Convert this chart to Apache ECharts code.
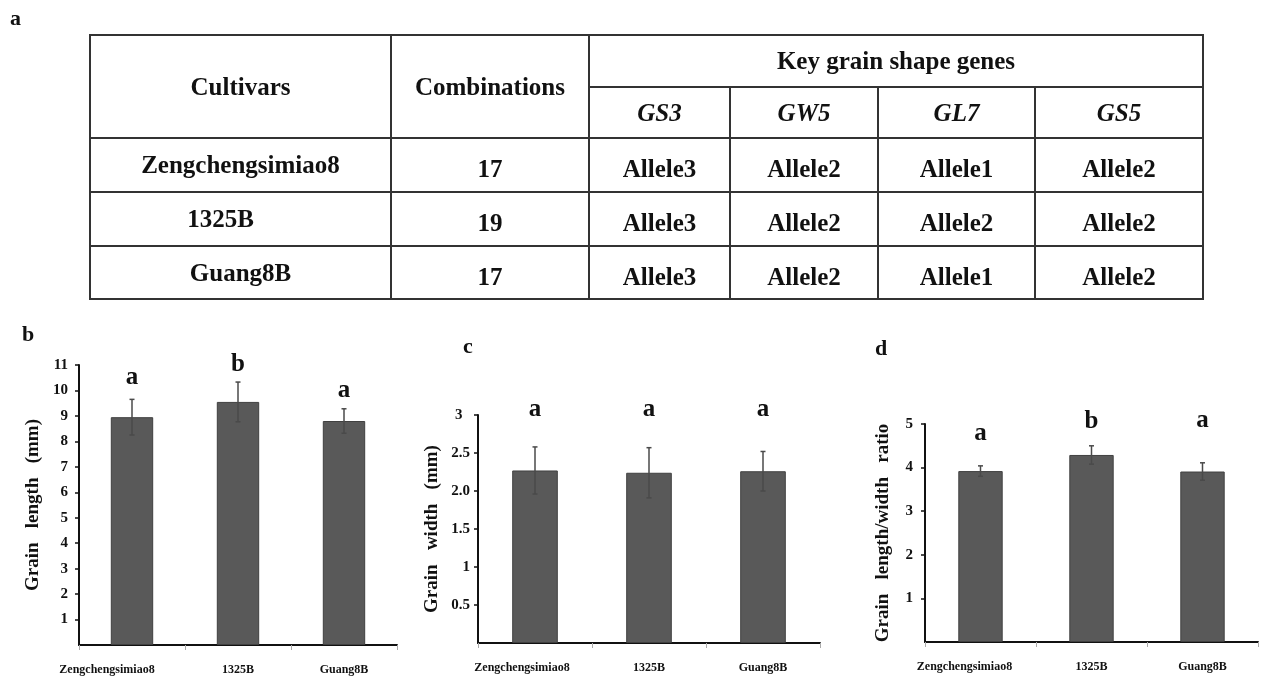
<!DOCTYPE html>
<html>
<head>
<meta charset="utf-8">
<script src="https://cdn.jsdelivr.net/npm/echarts@6/dist/echarts.min.js"></script>
<style>
  body { margin: 0; background: #fff; }
  #chart { position: absolute; left: 0; top: 0; width: 1263px; height: 680px; }
  #tbl {
    position: absolute; left: 89px; top: 34px; width: 1113px; height: 264px;
    border-collapse: collapse; table-layout: fixed; z-index: 2;
    font-family: 'Liberation Serif', 'Times New Roman', serif;
    font-weight: bold; font-size: 25px; color: #111;
  }
  #tbl td { border: 2px solid #333; text-align: center; vertical-align: middle; padding: 0; }
  #tbl td.gene { font-style: italic; }
  #tbl td.low { padding-top: 8px; }
</style>
</head>
<body>
<div id="chart"></div>
<table id="tbl"></table>
<script>
// panel a (table)
const tableGenes = ['GS3', 'GW5', 'GL7', 'GS5'];
const tableCultivars = ['Zengchengsimiao8', '1325B', 'Guang8B'];
const tableCombinations = [17, 19, 17];
const tableAlleles = [
  ['Allele3', 'Allele2', 'Allele1', 'Allele2'],
  ['Allele3', 'Allele2', 'Allele2', 'Allele2'],
  ['Allele3', 'Allele2', 'Allele1', 'Allele2']
];

// panels b, c, d
const categories = ['Zengchengsimiao8', '1325B', 'Guang8B'];
const lengthMean = [8.95, 9.55, 8.8];
const lengthErr = [0.7, 0.78, 0.48];
const lengthLetters = ['a', 'b', 'a'];
const lengthLetterPos = [10.5, 11.0, 10.0];

const widthMean = [2.27, 2.24, 2.26];
const widthErr = [0.31, 0.33, 0.26];
const widthLetters = ['a', 'a', 'a'];
const widthLetterPos = [3.07, 3.07, 3.07];
const widthTicks = [0.5, 1, 1.5, 2, 2.5, 3];
const widthTickLabels = ['0.5', '1', '1.5', '2.0', '2.5', '3  '];

const ratioMean = [3.92, 4.29, 3.91];
const ratioErr = [0.12, 0.21, 0.2];
const ratioLetters = ['a', 'b', 'a'];
const ratioLetterPos = [4.79, 5.05, 5.09];

// build the table
const tbl = document.getElementById('tbl');
const colW = [301, 198, 141, 148, 157, 168];
const rowH = [52, 51, 54, 54, 53];
let html = '<colgroup>' + colW.map(w => `<col style="width:${w}px">`).join('') + '</colgroup>';
html += `<tr style="height:${rowH[0]}px"><td rowspan="2">Cultivars</td><td rowspan="2">Combinations</td><td colspan="4">Key grain shape genes</td></tr>`;
html += `<tr style="height:${rowH[1]}px">` + tableGenes.map(g => `<td class="gene">${g}</td>`).join('') + '</tr>';
tableCultivars.forEach((c, i) => {
  const pad = c === '1325B' ? ' style="padding-right:40px"' : '';
  html += `<tr style="height:${rowH[i + 2]}px"><td${pad}>${c}</td><td class="low">${tableCombinations[i]}</td>` +
    tableAlleles[i].map(a => `<td class="low">${a}</td>`).join('') + '</tr>';
});
tbl.innerHTML = html;

const chart = echarts.init(document.getElementById('chart'));
const font = 'Liberation Serif';

function xAxisFor(grid, shift) {
  return {
    type: 'category',
    gridIndex: grid,
    // first label sits left of its bar in the original
    data: categories.map((c, i) => ({
      value: c,
      textStyle: { padding: [0, (i === 0 ? shift : 0), 0, 0] }
    })),
    axisLine: { lineStyle: { color: '#111', width: 2 } },
    axisTick: { show: true, length: 5, lineStyle: { color: '#aaa' } },
    axisLabel: { interval: 0, margin: 19, fontFamily: font, fontWeight: 'bold', fontSize: 12, color: '#111' }
  };
}

function yAxisFor(grid, max, interval, name, gap, margin, formatter) {
  return {
    type: 'value',
    gridIndex: grid,
    min: 0,
    max: max,
    interval: interval,
    name: name,
    nameLocation: 'middle',
    nameGap: gap,
    nameTextStyle: { fontFamily: font, fontWeight: 'bold', fontSize: 19, color: '#111' },
    axisLine: { show: true, lineStyle: { color: '#111', width: 2 } },
    axisTick: { show: true, length: 4, lineStyle: { color: '#111', width: 1.5 } },
    axisLabel: {
      margin: margin, showMinLabel: false,
      fontFamily: font, fontWeight: 'bold', fontSize: 15, color: '#111',
      formatter: formatter
    },
    splitLine: { show: false }
  };
}

function errorBars(grid, mean, err) {
  return {
    type: 'custom',
    xAxisIndex: grid,
    yAxisIndex: grid,
    z: 3,
    data: mean.map((m, i) => [i, m - err[i], m + err[i]]),
    renderItem: (params, api) => {
      const hi = api.coord([api.value(0), api.value(2)]);
      const lo = api.coord([api.value(0), api.value(1)]);
      const w = 2.5;
      const st = { stroke: '#4a4a4a', lineWidth: 1.5 };
      return {
        type: 'group',
        children: [
          { type: 'line', shape: { x1: hi[0], y1: hi[1], x2: lo[0], y2: lo[1] }, style: st },
          { type: 'line', shape: { x1: hi[0] - w, y1: hi[1], x2: hi[0] + w, y2: hi[1] }, style: st },
          { type: 'line', shape: { x1: lo[0] - w, y1: lo[1], x2: lo[0] + w, y2: lo[1] }, style: st }
        ]
      };
    }
  };
}

function bars(grid, mean) {
  return {
    type: 'bar',
    xAxisIndex: grid,
    yAxisIndex: grid,
    barWidth: '40%',
    data: mean,
    itemStyle: { color: '#595959', borderColor: '#404040', borderWidth: 1 }
  };
}

// significance letters above the bars
function letters(grid, pos, text) {
  return {
    type: 'custom',
    xAxisIndex: grid,
    yAxisIndex: grid,
    clip: false,
    z: 4,
    data: pos.map((p, i) => [i, p]),
    renderItem: (params, api) => {
      const pt = api.coord([api.value(0), api.value(1)]);
      return {
        type: 'text',
        x: pt[0],
        y: pt[1],
        style: {
          text: text[params.dataIndex],
          font: 'bold 25px "Liberation Serif"',
          fill: '#111',
          align: 'center',
          verticalAlign: 'middle'
        }
      };
    }
  };
}

const panelLabel = (t, x, y) => ({
  type: 'text', left: x, top: y,
  style: { text: t, font: 'bold 22px "Liberation Serif"', fill: '#111' }
});

const option = {
  animation: false,
  grid: [
    { left: 79, top: 365, width: 318, height: 280 },
    { left: 478, top: 415, width: 342, height: 228 },
    { left: 925, top: 424, width: 333, height: 218 }
  ],
  xAxis: [xAxisFor(0, 50), xAxisFor(1, 26), xAxisFor(2, 32)],
  yAxis: [
    yAxisFor(0, 11, 1, 'Grain   length   (mm)', 36, 11),
    yAxisFor(1, 3, 0.5, 'Grain   width   (mm)', 36, 8, v => {
      const i = widthTicks.indexOf(v);
      return i < 0 ? '' : widthTickLabels[i];
    }),
    yAxisFor(2, 5, 1, 'Grain   length/width   ratio', 32, 12)
  ],
  graphic: [
    panelLabel('a', 10, 8),
    panelLabel('b', 22, 324),
    panelLabel('c', 463, 336),
    panelLabel('d', 875, 338)
  ],
  series: [
    bars(0, lengthMean), errorBars(0, lengthMean, lengthErr), letters(0, lengthLetterPos, lengthLetters),
    bars(1, widthMean), errorBars(1, widthMean, widthErr), letters(1, widthLetterPos, widthLetters),
    bars(2, ratioMean), errorBars(2, ratioMean, ratioErr), letters(2, ratioLetterPos, ratioLetters)
  ]
};

chart.setOption(option);
</script>
</body>
</html>
